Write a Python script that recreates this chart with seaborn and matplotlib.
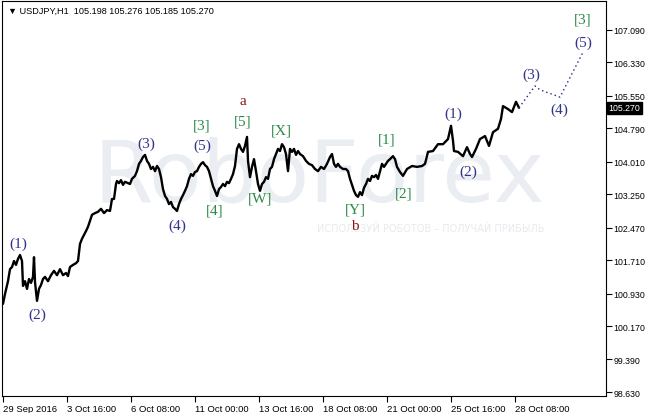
import numpy as np
import pandas as pd
import matplotlib
matplotlib.use('Agg')
import matplotlib.pyplot as plt
import matplotlib.transforms as mtransforms
import seaborn as sns

# hourly bars (bar number, price)
bars = [0, 2, 5, 7, 9, 11, 13, 15, 17, 19, 20, 22, 24, 26, 28, 30, 31, 32, 34, 36,
        38, 40, 42, 45, 48, 51, 54, 57, 60, 63, 65, 67, 70, 73, 75, 77, 79, 81, 83, 85,
        87, 89, 92, 95, 98, 101, 104, 107, 109, 111, 113, 114, 116, 118, 120, 122,
        127, 129, 132, 134, 136, 138, 140, 142, 144, 146, 148, 150, 152, 154, 156, 158,
        160, 162, 164, 166, 168, 170, 172, 174, 176, 178, 180, 182, 184, 186, 188, 190,
        192, 194, 196, 198, 200, 202, 204, 206, 208, 210, 212, 214, 216, 218, 220, 222,
        224, 226, 228, 230, 232, 234, 236, 238, 240, 242, 244, 245, 247,
        249, 251, 253, 255, 257, 259, 261, 263, 265, 267, 269, 271, 273, 275, 277, 279,
        281, 283, 285, 287, 289, 291, 293, 295, 297, 300, 303, 306, 309, 312, 315, 318,
        321, 324, 327, 329, 331, 333, 335, 337, 340, 343, 345, 347, 349, 351, 353, 355,
        357, 359, 361, 363, 365, 367, 369, 371, 373, 375, 377, 379, 381, 383, 385,
        387, 390, 392, 394, 397, 400, 404, 409, 414, 419, 422, 425, 430, 435, 440, 445,
        448, 450, 451, 455, 460, 464, 467, 469, 473, 477, 482, 486, 490, 495, 498, 500,
        505, 509, 513, 516]
close = [100.69, 100.92, 101.22, 101.50, 101.55, 101.69, 101.60, 101.74, 101.83, 101.69,
         101.11, 101.22, 101.04, 101.27, 101.18, 101.32, 101.78, 101.20, 100.76, 101.04,
         101.13, 101.27, 101.32, 101.22, 101.36, 101.46, 101.36, 101.50, 101.36, 101.41,
         101.34, 101.55, 101.60, 101.64, 101.69, 102.09, 102.21, 102.30, 102.39, 102.49,
         102.63, 102.77, 102.81, 102.84, 102.91, 102.81, 102.88, 102.86, 103.14, 103.14,
         103.49, 103.56, 103.51, 103.58, 103.47, 103.54,
         103.49, 103.61, 103.68, 103.79, 103.96, 104.03, 104.12, 104.17, 104.03, 103.96,
         103.84, 103.89, 103.79, 103.91, 103.84, 103.65, 103.37, 103.21, 103.14, 103.02,
         103.07, 102.95, 102.91, 102.86, 103.02, 103.14, 103.23, 103.33, 103.44, 103.61,
         103.72, 103.68, 103.77, 103.79, 103.89, 103.96, 104.00, 103.93, 103.89, 103.79,
         103.61, 103.44, 103.33, 103.21, 103.37, 103.42, 103.49, 103.44, 103.54, 103.51,
         103.61, 103.72, 103.91, 104.31, 104.42, 104.31, 104.24, 104.38, 104.59, 104.03,
         103.65,
         103.89, 104.07, 103.79, 103.49, 103.33, 103.49, 103.54, 103.65, 103.61, 103.84,
         103.89, 104.07, 104.19, 104.31, 104.26, 104.42, 104.35, 104.19, 103.79, 104.31,
         104.24, 104.31, 104.17, 104.26, 104.19, 104.14, 104.03, 103.96, 103.93, 103.84,
         103.79, 103.89, 103.84, 103.96, 104.12, 104.19, 103.96, 103.89, 103.96, 103.89,
         103.84, 103.84, 103.79, 103.61, 103.47, 103.33, 103.23, 103.19, 103.30, 103.23,
         103.40, 103.49, 103.61, 103.56, 103.68, 103.65, 103.70, 103.61, 103.79, 103.96,
         103.89, 103.96, 104.03,
         104.07, 104.14, 104.07, 103.89, 103.77, 103.68, 103.84, 103.91, 103.89, 103.91,
         103.96, 104.24, 104.26, 104.42, 104.42, 104.54, 104.85, 104.50, 104.26, 104.24,
         104.14, 104.35, 104.19, 104.12, 104.31, 104.54, 104.61, 104.38, 104.70, 104.78,
         105.01, 105.31, 105.24, 105.17, 105.41, 105.27]

# forecast path (dotted)
fc_bars = [516, 532, 537, 557, 580]
fc_price = [105.27, 105.78, 105.69, 105.52, 106.57]

y_ticks = [98.630, 99.390, 100.170, 100.930, 101.710, 102.470, 103.250,
           104.010, 104.790, 105.550, 106.330, 107.090]
x_ticks = [0, 64, 128, 192, 256, 320, 384, 448, 512]
x_labels = ['29 Sep 2016', '3 Oct 16:00', '6 Oct 08:00', '11 Oct 00:00', '13 Oct 16:00',
            '18 Oct 08:00', '21 Oct 00:00', '25 Oct 16:00', '28 Oct 08:00']

# wave labels: text, bar, price, kind
waves = [('(1)', 15, 102.11, 'p'), ('(2)', 34, 100.45, 'p'), ('(3)', 143, 104.45, 'p'),
         ('(4)', 174, 102.53, 'p'), ('(5)', 199, 104.40, 'p'), ('[3]', 199, 104.87, 'g'),
         ('[4]', 212, 102.88, 'g'), ('[5]', 240, 104.96, 'g'), ('a', 240, 105.43, 'r'),
         ('[W]', 257, 103.16, 'g'), ('[X]', 278, 104.75, 'g'), ('[Y]', 352, 102.91, 'g'),
         ('b', 352, 102.53, 'r'), ('[1]', 384, 104.54, 'g'), ('[2]', 401, 103.28, 'g'),
         ('(1)', 450, 105.15, 'p'), ('(2)', 465, 103.79, 'p'), ('(3)', 528, 106.06, 'p'),
         ('(4)', 556, 105.24, 'p'), ('[3]', 580, 107.34, 'g'), ('(5)', 580, 106.81, 'p')]
wave_colors = {'p': '#33338c', 'g': '#2c8a48', 'r': '#8b1414'}

sns.set_style('white')
plt.rcParams['font.family'] = ['Liberation Sans', 'DejaVu Sans']

fig = plt.figure(figsize=(6.46, 4.14), dpi=100)
ax = fig.add_axes([2/646, 17/414, 604/646, 395/414])
ax.set_xlim(-1, 603)
ax.set_ylim(98.537, 107.765)

# watermark
ax.text(0.525, 0.555, 'RoboForex', transform=ax.transAxes, ha='center', va='center',
        fontsize=62, family='DejaVu Sans', color='#eaeef2', zorder=0)
ax.text(0.71, 0.425, 'ИСПОЛЬЗУЙ РОБОТОВ – ПОЛУЧАЙ ПРИБЫЛЬ', transform=ax.transAxes,
        ha='center', va='center', fontsize=7, family='DejaVu Sans', color='#e6eaee',
        zorder=0)

df = pd.DataFrame({'bar': bars, 'close': close})
sns.lineplot(data=df, x='bar', y='close', color='black', linewidth=1.7, ax=ax, zorder=3)
fc = pd.DataFrame({'bar': fc_bars, 'close': fc_price})
sns.lineplot(data=fc, x='bar', y='close', color='#22228a', linewidth=1.0,
             linestyle=(0, (1, 2.2)), ax=ax, zorder=3)

for txt, b, p, k in waves:
    ax.text(b, p, txt, ha='center', va='center', fontsize=11,
            family='Liberation Serif', color=wave_colors[k], zorder=4)

ax.text(6/604, 1 - 9/395, '▼ USDJPY,H1  105.198 105.276 105.185 105.270',
        transform=ax.transAxes, ha='left', va='center', fontsize=6.6,
        family=['Liberation Sans', 'DejaVu Sans'], color='black')

ax.yaxis.tick_right()
ax.set_yticks(y_ticks)
ax.set_yticklabels(['%.3f' % v for v in y_ticks])
ax.set_xticks(x_ticks)
ax.set_xticklabels(x_labels, ha='left')
ax.tick_params(axis='both', direction='out', length=4, width=0.8, labelsize=6.8,
               colors='black', pad=2)
ax.tick_params(axis='y', right=True, left=False, labelsize=6.3, pad=1.5)
ax.tick_params(axis='x', bottom=True)
ax.set_xlabel('')
ax.set_ylabel('')
for s in ax.spines.values():
    s.set_color('black')
    s.set_linewidth(0.8)

# last price marker
trans = mtransforms.blended_transform_factory(ax.transAxes, ax.transData)
ax.text(1.004, close[-1], '%.3f' % close[-1], transform=trans, ha='left', va='center',
        fontsize=6.3, color='white', zorder=5, clip_on=False,
        bbox=dict(boxstyle='square,pad=0.2', facecolor='black', edgecolor='black'))

fig.savefig('out.png', dpi=100)
